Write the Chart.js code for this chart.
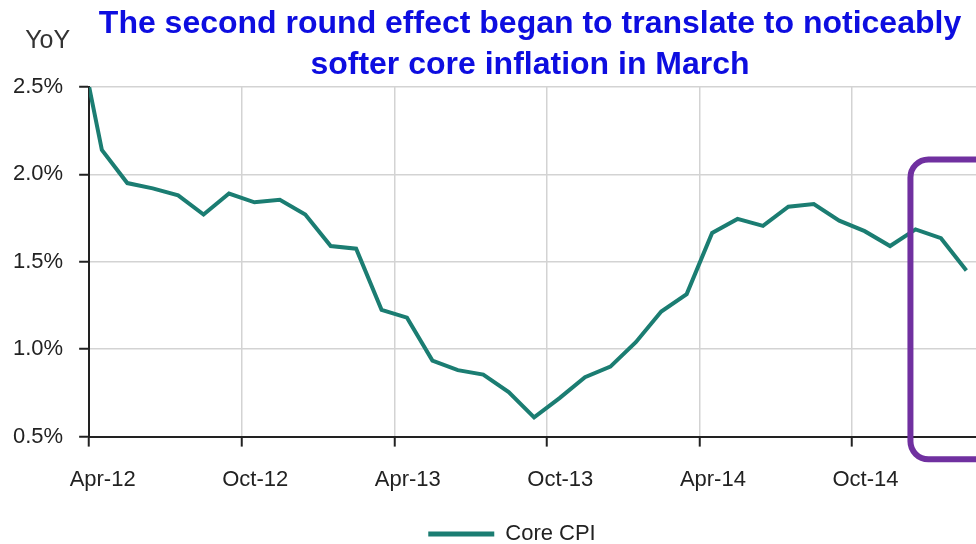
<!DOCTYPE html>
<html>
<head>
<meta charset="utf-8">
<script src="https://cdn.jsdelivr.net/npm/chart.js@4.4.1/dist/chart.umd.min.js"></script>
<style>
  html, body { margin: 0; padding: 0; background: #fff; overflow: hidden; }
  #wrap { width: 976px; height: 544px; overflow: hidden; }
</style>
</head>
<body>
<div id="wrap"><canvas id="chart" width="1063" height="544"></canvas></div>
<script>
// monthly core CPI, YoY %
var months = ["Mar-12","Apr-12","May-12","Jun-12","Jul-12","Aug-12","Sep-12","Oct-12","Nov-12","Dec-12",
              "Jan-13","Feb-13","Mar-13","Apr-13","May-13","Jun-13","Jul-13","Aug-13","Sep-13","Oct-13",
              "Nov-13","Dec-13","Jan-14","Feb-14","Mar-14","Apr-14","May-14","Jun-14","Jul-14","Aug-14",
              "Sep-14","Oct-14","Nov-14","Dec-14","Jan-15","Feb-15"];
var coreCpi = [2.86, 2.14, 1.95, 1.92, 1.88, 1.77, 1.89, 1.84, 1.855, 1.77,
               1.59, 1.575, 1.225, 1.18, 0.935, 0.88, 0.855, 0.755, 0.61, 0.72,
               0.84, 0.90, 1.04, 1.215, 1.315, 1.665, 1.745, 1.705, 1.815, 1.83,
               1.735, 1.675, 1.59, 1.685, 1.635, 1.45];
var xTickLabels = ["Apr-12","Oct-12","Apr-13","Oct-13","Apr-14","Oct-14"];
var yTicks = [0.5, 1.0, 1.5, 2.0, 2.5];

// highlighted window (data units)
var boxFrom = 32.8, boxTo = 38.5, boxTop = 2.085, boxBottom = 0.37;

var FONT = "'Liberation Sans', Arial, sans-serif";
var TEAL = "#1b7d72";

var highlightBox = {
    id: "highlightBox",
    afterDatasetsDraw: function(chart){
        var xs = chart.scales.x, ys = chart.scales.y, ctx = chart.ctx;
        var l = xs.getPixelForValue(boxFrom), r = xs.getPixelForValue(boxTo);
        var t = ys.getPixelForValue(boxTop), b = ys.getPixelForValue(boxBottom);
        var rad = 18;
        ctx.save();
        ctx.strokeStyle = "#7030a0";
        ctx.lineWidth = 6;
        ctx.beginPath();
        ctx.moveTo(l + rad, t);
        ctx.arcTo(r, t, r, b, rad);
        ctx.arcTo(r, b, l, b, rad);
        ctx.arcTo(l, b, l, t, rad);
        ctx.arcTo(l, t, r, t, rad);
        ctx.closePath();
        ctx.stroke();
        ctx.restore();
    }
};

var unitLabel = {
    id: "unitLabel",
    afterDraw: function(chart){
        var ctx = chart.ctx, area = chart.chartArea;
        ctx.save();
        ctx.font = "25px " + FONT;
        ctx.fillStyle = "#333";
        ctx.textAlign = "right";
        ctx.textBaseline = "middle";
        ctx.fillText("YoY", area.left - 19, area.top - 46);
        ctx.restore();
    }
};

// legend sits a bit left of the title centre in the original
var legendNudge = {
    id: "legendNudge",
    afterLayout: function(chart){
        chart.legend.left -= 18;
        chart.legend.right -= 18;
    }
};

new Chart(document.getElementById("chart"), {
    type: "line",
    data: {
        datasets: [{
            label: "Core CPI",
            data: months.map(function(m, i){ return { x: i, y: coreCpi[i] }; }),
            borderColor: TEAL,
            backgroundColor: TEAL,
            borderWidth: 4,
            pointRadius: 0,
            tension: 0,
            fill: false
        }]
    },
    options: {
        responsive: false,
        animation: false,
        layout: { padding: { left: -3, right: 0, top: 0, bottom: -11 } },
        scales: {
            x: {
                type: "linear",
                min: 0.5,
                max: 38.8,
                afterBuildTicks: function(scale){
                    scale.ticks = xTickLabels.map(function(lab){
                        return { value: months.indexOf(lab) - 0.5 };
                    });
                },
                ticks: {
                    autoSkip: false,
                    maxRotation: 0,
                    padding: 20,
                    labelOffset: 13.5,
                    color: "#222",
                    font: { family: FONT, size: 22 },
                    callback: function(v){ return months[Math.round(v + 0.5)]; }
                },
                grid: { color: "#d3d3d3", lineWidth: 1.5, tickColor: "#222", tickLength: 10, tickWidth: 2 },
                border: { display: true, color: "#222", width: 2 }
            },
            y: {
                min: 0.5,
                max: 2.5,
                afterBuildTicks: function(scale){
                    scale.ticks = yTicks.map(function(v){ return { value: v }; });
                },
                ticks: {
                    padding: 16,
                    color: "#222",
                    font: { family: FONT, size: 22 },
                    callback: function(v){ return v.toFixed(1) + "%"; }
                },
                grid: { color: "#d3d3d3", lineWidth: 1.5, tickColor: "#222", tickLength: 10, tickWidth: 2 },
                border: { display: true, color: "#222", width: 2 }
            }
        },
        plugins: {
            title: {
                display: true,
                text: ["The second round effect began to translate to noticeably", "softer core inflation in March"],
                color: "#0d0de0",
                font: { family: FONT, size: 32, weight: "bold", lineHeight: 1.28 },
                padding: { top: 4, bottom: 1 }
            },
            legend: {
                position: "bottom",
                labels: {
                    usePointStyle: true,
                    pointStyle: "line",
                    pointStyleWidth: 66,
                    color: "#222",
                    font: { family: FONT, size: 22 },
                    padding: 10,
                    generateLabels: function(chart){
                        var items = Chart.defaults.plugins.legend.labels.generateLabels(chart);
                        items.forEach(function(it){ it.lineWidth = 5; });
                        return items;
                    }
                }
            },
            tooltip: { enabled: false }
        }
    },
    plugins: [highlightBox, unitLabel, legendNudge]
});
</script>
</body>
</html>
